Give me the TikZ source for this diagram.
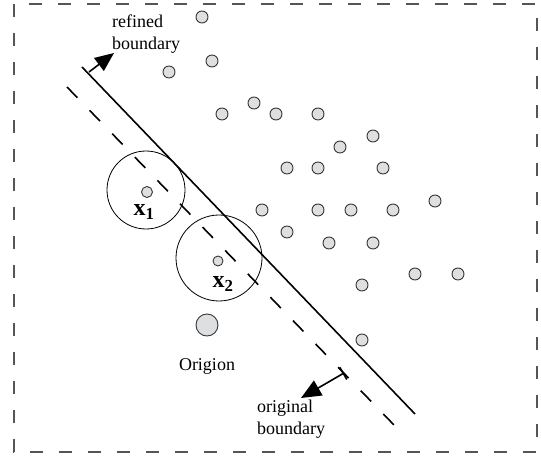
\documentclass[tikz,border=0pt]{standalone}
\usepackage{fontspec}
\setmainfont{Liberation Serif}
\usepackage{xcolor}
\usepackage{tikz}
\usetikzlibrary{arrows.meta,positioning}
\definecolor{dotfill}{RGB}{222,223,225}
\definecolor{dotedge}{RGB}{55,55,55}
\definecolor{framegray}{RGB}{85,85,85}

\begin{document}
\begin{tikzpicture}[x=1pt, y=-1pt,
    datapt/.style={circle, draw=dotedge, fill=dotfill, line width=0.9pt,
                   minimum size=#1, inner sep=0pt},
    datapt/.default=12pt,
    ringnode/.style={circle, draw=black, line width=0.8pt, minimum size=#1, inner sep=0pt},
    lbl/.style={font=\fontsize{18}{22}\selectfont, align=left, inner sep=0pt},
    xlbl/.style={font=\fontsize{24}{26}\selectfont\bfseries, inner sep=0pt},
    bound/.style={line width=1.6pt},
    movearrow/.style={line width=1.6pt}
]
\useasboundingbox (0,0) rectangle (541,457);
% frame
\draw[framegray, line width=1.2pt, dash pattern=on 13pt off 16pt] (14,4) rectangle (537,452);

% boundaries
\coordinate (r1) at (82,67);
\coordinate (r2) at (415,414);
\coordinate (o1) at (67,87);
\coordinate (o2) at (394,425);
\draw[bound] (r1) -- (r2);
\draw[bound, dash pattern=on 15pt off 17.5pt] (o1) -- (o2);

% support circles
\node[ringnode=78pt] (c1) at (146,190) {};
\node[ringnode=86pt] (c2) at (219,258) {};
\node[datapt=11pt] (x1) at (147,192) {};
\node[datapt=10pt] (x2) at (218,261) {};
\node[xlbl] (lx1) at (144,212) {x\textsubscript{1}};
\node[xlbl] (lx2) at (223,284) {x\textsubscript{2}};

% origin
\node[datapt=22pt] (org) at (207,325) {};
\node[lbl, below=22pt of org] (lorg) {Origion};

% samples
\node[datapt] (p1) at (202,17) {};
\node[datapt] (p2) at (169,72) {};
\node[datapt] (p3) at (212,61) {};
\node[datapt] (p4) at (254,103) {};
\node[datapt] (p5) at (222,114) {};
\node[datapt] (p6) at (276,114) {};
\node[datapt] (p7) at (318,114) {};
\node[datapt] (p8) at (373,136) {};
\node[datapt] (p9) at (340,147) {};
\node[datapt] (p10) at (287,168) {};
\node[datapt] (p11) at (318,168) {};
\node[datapt] (p12) at (383,168) {};
\node[datapt] (p13) at (435,201) {};
\node[datapt] (p14) at (262,210) {};
\node[datapt] (p15) at (318,210) {};
\node[datapt] (p16) at (351,210) {};
\node[datapt] (p17) at (393,210) {};
\node[datapt] (p18) at (287,232) {};
\node[datapt] (p19) at (329,243) {};
\node[datapt] (p20) at (373,243) {};
\node[datapt] (p21) at (415,274) {};
\node[datapt] (p22) at (458,274) {};
\node[datapt] (p23) at (362,285) {};
\node[datapt] (p24) at (362,340) {};

% shift arrows
\coordinate (ra) at (89,72);
\coordinate (rb) at (114,53);
\draw[movearrow, -{Triangle[length=19pt, width=16pt]}] (ra) -- (rb);
\node[lbl, anchor=west] (lref) at (112,34) {refined\\boundary};

\coordinate (oa) at (344,373);
\coordinate (ob) at (301,398);
\draw[movearrow, {Bar[width=14pt]}-{Triangle[length=20pt, width=17pt]}] (oa) -- (ob);
\node[lbl, anchor=west] (lorig) at (257,419) {original\\boundary};
\end{tikzpicture}
\end{document}
